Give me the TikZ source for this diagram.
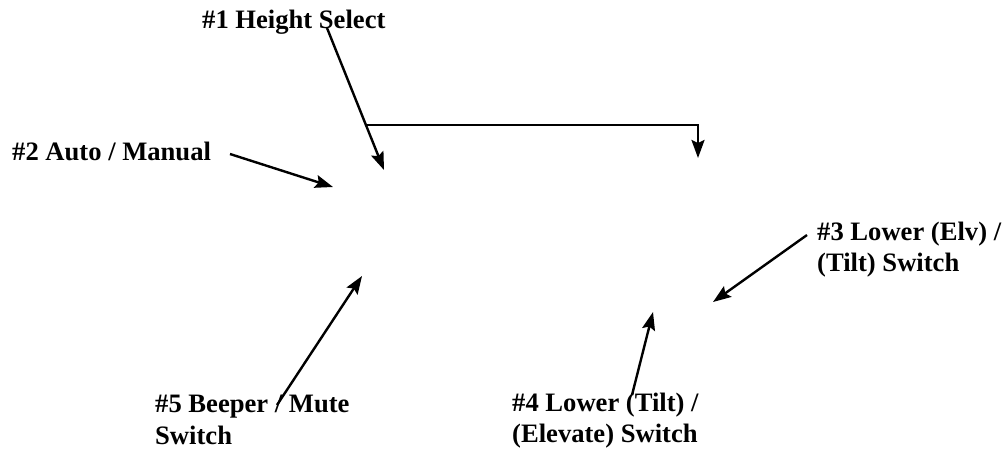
\documentclass[tikz,border=0pt]{standalone}
\usepackage{fontspec}
\setmainfont{Liberation Serif}
\usetikzlibrary{arrows.meta}
\begin{document}
\begin{tikzpicture}[x=1pt,y=-1pt,
  lbl/.style={anchor=base west, inner sep=0pt, font=\fontsize{26.6}{31}\selectfont\bfseries},
  arr/.style={line width=2.4pt, -{Stealth[length=18pt,width=13pt,inset=3pt]}},
  ln/.style={line width=2.4pt}]
\useasboundingbox (0,0) rectangle (1008,451);
% labels
\node[lbl] (n1) at (202,28) {\#1 Height Select};
\node[lbl] (n2) at (12,160) {\#2 Auto / Manual};
\node[lbl] (n3) at (817,240) {\begin{tabular}[t]{@{}l@{}}\#3 Lower (Elv) /\\(Tilt) Switch\end{tabular}};
\node[lbl] (n4) at (512,411) {\begin{tabular}[t]{@{}l@{}}\#4 Lower (Tilt) /\\(Elevate) Switch\end{tabular}};
\node[lbl, font=\fontsize{26.6}{32}\selectfont\bfseries] (n5) at (155,412) {\begin{tabular}[t]{@{}l@{}}\#5 Beeper / Mute\\Switch\end{tabular}};
% arrow end points
\coordinate (a1s) at (327,28);
\coordinate (a1e) at (384,170);
\coordinate (j) at (366,125);
\coordinate (c) at (698,125);
\coordinate (t) at (698,158);
\coordinate (a2s) at (230,154);
\coordinate (a2e) at (333,187);
\coordinate (a3s) at (807,235);
\coordinate (a3e) at (713,302);
\coordinate (a4s) at (632,395);
\coordinate (a4e) at (653,312);
\coordinate (a5s) at (277,405);
\coordinate (a5e) at (362,276);
% connectors
\draw[arr] (a1s) -- (a1e);
\draw[arr] (j) -- (c) -- (t);
\draw[arr] (a2s) -- (a2e);
\draw[arr] (a3s) -- (a3e);
\draw[arr] (a4s) -- (a4e);
\draw[arr] (a5s) -- (a5e);
\end{tikzpicture}
\end{document}
